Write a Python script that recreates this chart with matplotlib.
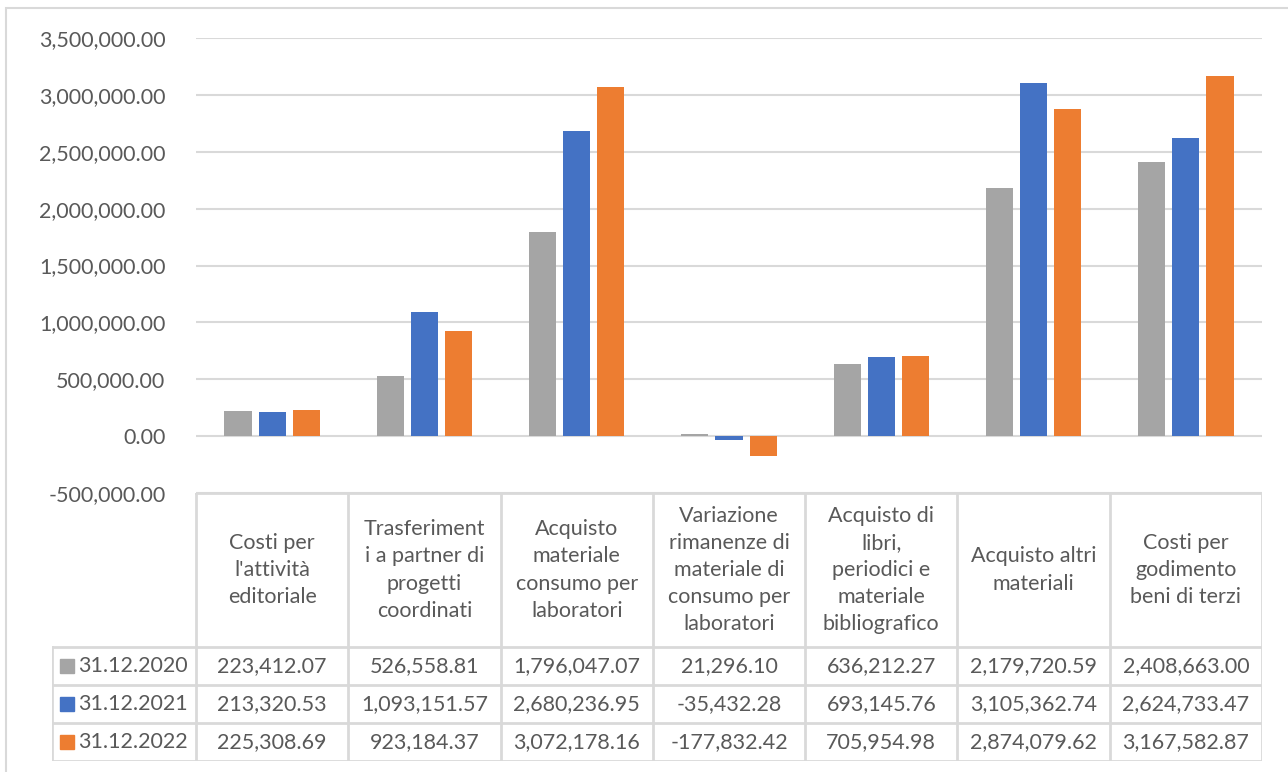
import matplotlib
matplotlib.use("Agg")
import matplotlib.pyplot as plt
from matplotlib.ticker import FuncFormatter, MultipleLocator
import numpy as np

plt.rcParams['font.family'] = ['Lato', 'DejaVu Sans']

# ==== Daten ====
categories = [
    "Costi per\nl'attività\neditoriale",
    "Trasferiment\ni a partner di\nprogetti\ncoordinati",
    "Acquisto\nmateriale\nconsumo per\nlaboratori",
    "Variazione\nrimanenze di\nmateriale di\nconsumo per\nlaboratori",
    "Acquisto di\nlibri,\nperiodici e\nmateriale\nbibliografico",
    "Acquisto altri\nmateriali",
    "Costi per\ngodimento\nbeni di terzi",
]
series_names = ["31.12.2020", "31.12.2021", "31.12.2022"]
v2020 = [223412.07, 526558.81, 1796047.07, 21296.10, 636212.27, 2179720.59, 2408663.00]
v2021 = [213320.53, 1093151.57, 2680236.95, -35432.28, 693145.76, 3105362.74, 2624733.47]
v2022 = [225308.69, 923184.37, 3072178.16, -177832.42, 705954.98, 2874079.62, 3167582.87]
series_values = [v2020, v2021, v2022]
colors = ['#A5A5A5', '#4472C4', '#ED7D31']

TEXT = '#595959'
GRID = '#D9D9D9'
W, H = 1288, 772

fig = plt.figure(figsize=(W / 100, H / 100), dpi=100)

def px(x0, y0, x1, y1):
    return [x0 / W, 1 - y1 / H, (x1 - x0) / W, (y1 - y0) / H]

# äußerer Rahmen (nur links und oben sichtbar)
fig.patches.append(plt.Rectangle((6 / W, -0.2), 1.2, 1.2 - 8 / H, transform=fig.transFigure,
                                 fill=False, edgecolor=GRID, linewidth=1.5))

# ==== Balken ====
plot_l, plot_r, plot_t, plot_b = 196, 1262, 38, 493
ax = fig.add_axes(px(plot_l, plot_t, plot_r, plot_b))
x = np.arange(len(categories))
bw = 0.178
off = 0.224
for i, (vals, c) in enumerate(zip(series_values, colors)):
    ax.bar(x + (i - 1) * off, vals, width=bw, color=c, zorder=3)

ax.set_xlim(-0.5, len(categories) - 0.5)
ax.set_ylim(-500000, 3500000)
ax.yaxis.set_major_locator(MultipleLocator(500000))
ax.yaxis.set_major_formatter(FuncFormatter(lambda v, p: f"{v:,.2f}"))
ax.grid(axis='y', color=GRID, linewidth=1.5, zorder=0)
ax.set_xticks([])
ax.tick_params(axis='y', length=0, pad=22, labelsize=15.5, labelcolor=TEXT)
for s in ax.spines.values():
    s.set_visible(False)

# ==== Datentabelle ====
tab_l, tab_t, tab_b = 52, 493, 761
row_h = 38
head_b = tab_b - 3 * row_h
tx = fig.add_axes(px(tab_l, tab_t, plot_r, tab_b))
tx.set_xlim(tab_l, plot_r)
tx.set_ylim(tab_b, tab_t)
tx.axis('off')

col_w = (plot_r - plot_l) / len(categories)
lw = 2
# horizontale Linien
tx.plot([plot_l, plot_r], [tab_t, tab_t], color=GRID, lw=lw)
for k in range(4):
    y = head_b + k * row_h
    tx.plot([tab_l, plot_r], [y, y], color=GRID, lw=lw)
# vertikale Linien
tx.plot([tab_l, tab_l], [head_b, tab_b], color=GRID, lw=lw)
for j in range(len(categories) + 1):
    xx = plot_l + j * col_w
    tx.plot([xx, xx], [tab_t, tab_b], color=GRID, lw=lw)

fs = 15.5
for j, cat in enumerate(categories):
    tx.text(plot_l + (j + 0.5) * col_w, (tab_t + head_b) / 2, cat, ha='center', va='center',
            fontsize=fs, color=TEXT, linespacing=1.45)

for i, (name, vals, c) in enumerate(zip(series_names, series_values, colors)):
    yc = head_b + (i + 0.5) * row_h
    tx.add_patch(plt.Rectangle((60, yc - 7), 14, 14, color=c))
    tx.text(78, yc, name, ha='left', va='center', fontsize=fs, color=TEXT)
    for j, v in enumerate(vals):
        tx.text(plot_l + (j + 0.5) * col_w, yc, f"{v:,.2f}", ha='center', va='center',
                fontsize=fs, color=TEXT)

fig.savefig("out.png", dpi=100)
